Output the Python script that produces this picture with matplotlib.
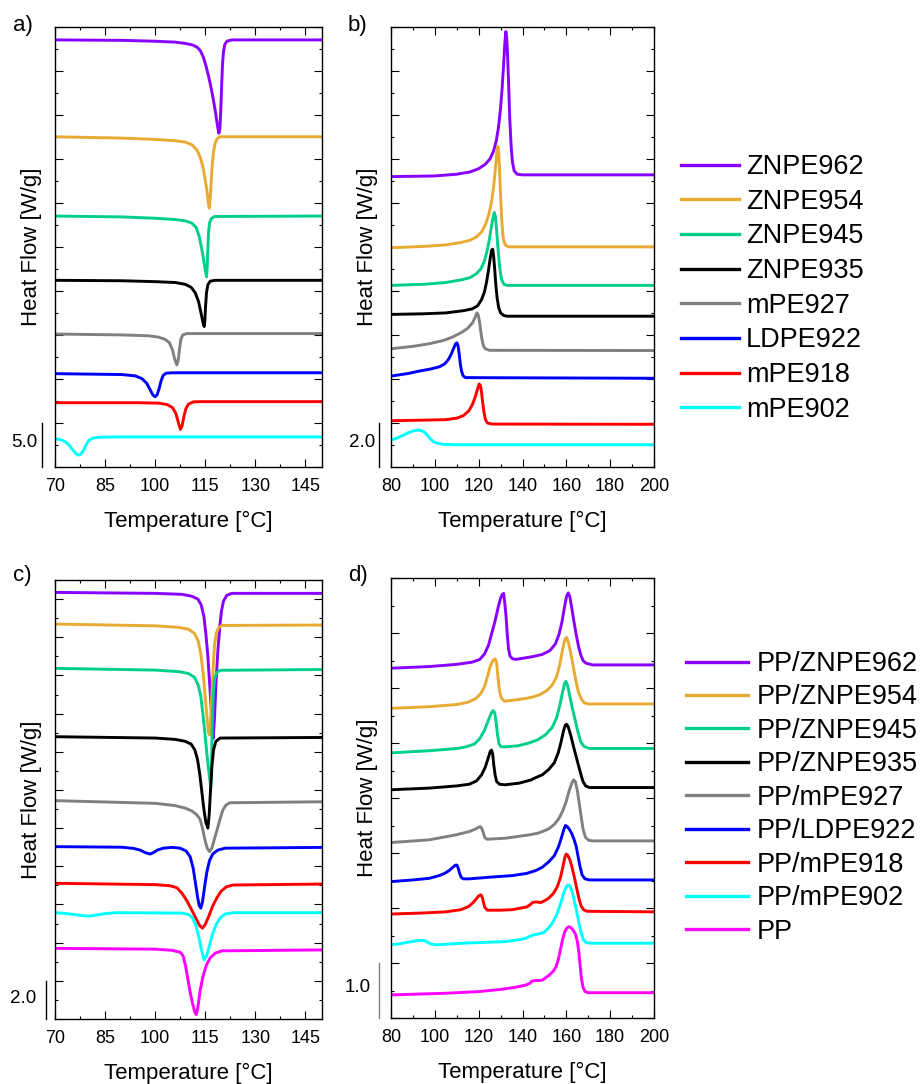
import matplotlib
matplotlib.use("Agg")
import matplotlib.pyplot as plt
from matplotlib.ticker import MultipleLocator
from matplotlib.lines import Line2D

plt.rcParams['font.family'] = ['Liberation Sans', 'DejaVu Sans']

# ---- a) cooling, neat PE  (T [°C], heat flow with offset [W/g])
a_znpe962 = [(70, 48.5), (90, 48.45), (100, 48.35), (106, 48.25), (109, 48.1), (111, 47.95), (112.5, 47.7),
             (113.5, 47.3), (114.4, 46.6), (115.2, 45.6), (116, 44.4), (116.8, 43.0), (117.5, 41.6), (118.2, 40.0),
             (118.7, 38.7), (119.1, 37.9), (119.4, 38.4), (119.7, 40.8), (119.95, 43.5), (120.2, 45.8),
             (120.5, 47.2), (120.9, 48.0), (121.5, 48.35), (123, 48.5), (150, 48.5)]
a_znpe954 = [(70, 37.5), (90, 37.35), (100, 37.2), (106, 37.05), (109, 36.9), (111, 36.6), (112.5, 36.0),
             (113.5, 35.2), (114.3, 34.1), (114.9, 32.9), (115.5, 31.4), (115.9, 30.1), (116.2, 29.4), (116.5, 30.4),
             (116.8, 32.4), (117.1, 34.3), (117.5, 35.8), (118, 36.8), (118.6, 37.3), (119.5, 37.5), (150, 37.5)]
a_znpe945 = [(70, 28.5), (90, 28.4), (100, 28.25), (106, 28.1), (109, 27.95), (111, 27.7), (112.3, 27.2),
             (113.2, 26.2), (113.9, 24.9), (114.5, 23.6), (115.0, 22.4), (115.4, 21.6), (115.6, 22.6), (115.8, 24.8),
             (116.0, 26.6), (116.3, 27.7), (116.8, 28.2), (117.8, 28.45), (150, 28.5)]
a_znpe935 = [(70, 21.2), (90, 21.15), (100, 21.05), (106, 20.95), (109, 20.75), (110.8, 20.4), (112, 19.8),
             (113, 18.8), (113.8, 17.4), (114.4, 16.3), (114.7, 15.95), (114.9, 16.6), (115.1, 18.2), (115.4, 19.8),
             (115.8, 20.7), (116.5, 21.1), (118, 21.2), (150, 21.2)]
a_mpe927 = [(70, 15.1), (90, 15.0), (98, 14.9), (101, 14.75), (103, 14.5), (104.3, 14.1), (105.2, 13.3),
            (105.9, 12.2), (106.5, 11.6), (106.9, 12.1), (107.3, 13.4), (107.7, 14.5), (108.3, 15.0), (109.5, 15.15),
            (150, 15.15)]
a_ldpe922 = [(70, 10.6), (90, 10.5), (94, 10.35), (96, 10.05), (97.5, 9.5), (98.6, 8.7), (99.4, 8.15), (100, 7.98),
             (100.6, 8.2), (101.2, 8.9), (101.8, 9.8), (102.4, 10.4), (103.3, 10.65), (105, 10.7), (150, 10.7)]
a_mpe918 = [(70, 7.3), (95, 7.3), (101, 7.25), (103.5, 7.1), (105.2, 6.75), (106.2, 6.1), (107, 5.0), (107.6, 4.27),
            (108.1, 4.7), (108.6, 5.7), (109.2, 6.6), (110, 7.15), (111.5, 7.4), (114, 7.42), (150, 7.42)]
a_mpe902 = [(70, 3.2), (71.5, 3.12), (73, 2.9), (74.2, 2.5), (75.3, 1.95), (76.3, 1.5), (77, 1.35), (77.7, 1.45),
            (78.5, 1.85), (79.3, 2.5), (80.2, 3.05), (81.5, 3.3), (84, 3.4), (90, 3.42), (150, 3.42)]

# ---- b) heating, neat PE
b_znpe962 = [(80, 13.19), (100, 13.22), (110, 13.3), (116, 13.4), (120, 13.55), (123, 13.75), (125.2, 14.0),
             (126.8, 14.35), (128, 14.8), (129, 15.4), (129.9, 16.2), (130.7, 17.2), (131.4, 18.3), (131.9, 19.2),
             (132.4, 19.78), (132.8, 19.5), (133.2, 18.7), (133.7, 17.3), (134.2, 15.8), (134.8, 14.6),
             (135.4, 13.85), (136.2, 13.45), (137.5, 13.3), (140, 13.27), (200, 13.27)]
b_znpe954 = [(80, 9.96), (95, 10.02), (105, 10.09), (112, 10.2), (116, 10.3), (119, 10.45), (121.5, 10.7),
             (123.3, 11.06), (124.7, 11.5), (125.8, 12.0), (126.8, 12.7), (127.6, 13.5), (128.3, 14.3), (128.8, 14.56),
             (129.2, 14.2), (129.6, 13.3), (130.1, 12.1), (130.6, 11.1), (131.2, 10.4), (132, 10.1), (133.5, 10.0),
             (200, 10.0)]
b_znpe945 = [(80, 8.25), (95, 8.3), (105, 8.38), (112, 8.5), (116, 8.6), (119, 8.78), (121, 9.0), (122.6, 9.35),
             (123.8, 9.8), (124.8, 10.3), (125.7, 10.85), (126.5, 11.3), (127.1, 11.56), (127.6, 11.4), (128.1, 10.9),
             (128.6, 10.2), (129.2, 9.5), (129.8, 8.9), (130.5, 8.5), (131.5, 8.3), (133, 8.25), (200, 8.25)]
b_znpe935 = [(80, 6.93), (95, 6.96), (105, 7.0), (113, 7.1), (117, 7.18), (119.5, 7.32), (121.3, 7.6), (122.6, 7.94),
             (123.6, 8.4), (124.5, 8.95), (125.3, 9.5), (125.9, 9.85), (126.4, 9.89), (126.8, 9.6), (127.3, 9.0),
             (127.8, 8.3), (128.4, 7.7), (129.1, 7.25), (130, 7.0), (131.5, 6.88), (133, 6.85), (200, 6.85)]
b_mpe927 = [(80, 5.37), (90, 5.48), (97.5, 5.6), (104, 5.75), (108, 5.9), (112, 6.1), (115, 6.3), (117.2, 6.55),
            (118.4, 6.8), (119.2, 7.0), (119.8, 6.9), (120.4, 6.6), (120.9, 6.2), (121.5, 5.8), (122.2, 5.5),
            (123, 5.37), (125, 5.3), (200, 5.29)]
b_ldpe922 = [(80, 4.13), (88, 4.25), (93, 4.36), (98, 4.45), (102, 4.55), (104.5, 4.68), (106.3, 4.9), (107.6, 5.15),
             (108.7, 5.42), (109.5, 5.6), (110.1, 5.64), (110.6, 5.5), (111.1, 5.15), (111.6, 4.7), (112.2, 4.35),
             (112.9, 4.14), (114, 4.06), (200, 4.03)]
b_mpe918 = [(80, 2.1), (95, 2.13), (105, 2.15), (110, 2.22), (113, 2.33), (115.5, 2.55), (117.2, 2.85), (118.5, 3.2),
            (119.5, 3.55), (120.2, 3.77), (120.8, 3.7), (121.3, 3.4), (121.8, 2.95), (122.4, 2.5), (123.1, 2.15),
            (124, 2.0), (126, 1.95), (200, 1.94)]
b_mpe902 = [(80, 1.23), (82.5, 1.3), (85.3, 1.43), (88, 1.56), (90.5, 1.65), (93, 1.68), (95, 1.6), (96.5, 1.45),
            (98, 1.27), (99.5, 1.14), (101.5, 1.07), (104, 1.03), (110, 1.01), (200, 1.01)]

# ---- c) cooling, PP blends
c_znpe962 = [(70, 22.35), (100, 22.3), (108, 22.25), (111, 22.15), (112.8, 22.0), (113.8, 21.7), (114.6, 21.1),
             (115.2, 20.2), (115.8, 19.0), (116.4, 17.4), (117.0, 15.7), (117.4, 14.7), (117.8, 15.8), (118.3, 17.8),
             (118.8, 19.3), (119.4, 20.6), (119.9, 21.4), (120.5, 21.9), (121.5, 22.2), (123, 22.3), (150, 22.3)]
c_znpe954 = [(70, 20.69), (100, 20.6), (107, 20.52), (110, 20.42), (111.8, 20.2), (112.9, 19.8), (113.7, 19.1),
             (114.4, 18.1), (115.0, 16.9), (115.6, 15.7), (116.0, 15.0), (116.3, 14.88), (116.6, 15.6), (117.0, 17.0),
             (117.4, 18.5), (117.8, 19.6), (118.3, 20.2), (119.0, 20.5), (120, 20.62), (150, 20.64)]
c_znpe945 = [(70, 18.37), (100, 18.28), (107, 18.2), (110, 18.1), (111.8, 17.9), (112.9, 17.5), (113.7, 16.9),
             (114.3, 16.0), (114.9, 15.0), (115.4, 14.1), (116.0, 13.1), (116.4, 12.5), (116.7, 12.17), (116.9, 13.4),
             (117.1, 15.3), (117.4, 16.9), (117.8, 17.8), (118.4, 18.15), (119.5, 18.27), (150, 18.31)]
c_znpe935 = [(70, 14.79), (100, 14.72), (106, 14.65), (109, 14.55), (110.8, 14.4), (111.9, 14.1), (112.7, 13.6),
             (113.4, 12.8), (114.0, 11.9), (114.6, 11.0), (115.2, 10.3), (115.8, 10.0), (116.2, 10.7), (116.6, 12.0),
             (117.0, 13.2), (117.5, 14.1), (118.2, 14.55), (119.5, 14.72), (150, 14.75)]
c_mpe927 = [(70, 11.44), (100, 11.3), (106, 11.18), (109, 11.05), (111, 10.9), (112.5, 10.7), (113.5, 10.45),
            (114.2, 10.0), (114.9, 9.4), (115.6, 8.95), (116.3, 8.77), (117.0, 8.95), (117.8, 9.45), (118.7, 10.0),
            (119.5, 10.5), (120.3, 10.95), (121.2, 11.2), (122.4, 11.33), (150, 11.38)]
c_ldpe922 = [(70, 9.03), (90, 9.0), (93.5, 8.94), (95.5, 8.85), (97, 8.72), (98.5, 8.64), (99.5, 8.72), (100.8, 8.86),
             (102.5, 8.95), (105, 8.99), (107.5, 8.95), (109.3, 8.8), (110.5, 8.5), (111.4, 7.9), (112.1, 7.1),
             (112.7, 6.4), (113.2, 5.95), (113.7, 5.81), (114.2, 6.15), (114.8, 6.9), (115.5, 7.7), (116.3, 8.3),
             (117.3, 8.65), (118.8, 8.85), (121, 8.95), (150, 8.99)]
c_mpe918 = [(70, 7.11), (100, 7.04), (104.5, 6.98), (106.5, 6.88), (108, 6.6), (109.5, 6.2), (111, 5.7), (112.3, 5.25),
            (113.3, 4.9), (114.2, 4.76), (115, 4.95), (116, 5.35), (117.2, 5.9), (118.5, 6.35), (119.8, 6.7),
            (121.4, 6.93), (123.4, 7.02), (150, 7.07)]
c_mpe902 = [(70, 5.57), (73, 5.53), (76, 5.47), (78.5, 5.41), (80.5, 5.39), (82.5, 5.45), (85, 5.52), (88.5, 5.57),
            (108, 5.55), (110, 5.48), (111.2, 5.3), (112.2, 4.9), (113.1, 4.3), (113.9, 3.6), (114.7, 3.1),
            (115.4, 3.3), (116.2, 3.8), (117.2, 4.45), (118.3, 4.95), (119.5, 5.3), (121, 5.5), (123.5, 5.57),
            (150, 5.57)]
c_pp = [(70, 3.7), (100, 3.66), (105, 3.6), (107.5, 3.5), (108.4, 3.3), (109.1, 2.8), (109.8, 2.1), (110.5, 1.4),
        (111.3, 0.75), (111.9, 0.35), (112.3, 0.23), (112.8, 0.6), (113.5, 1.5), (114.3, 2.2), (115.3, 2.8),
        (116.5, 3.2), (118, 3.45), (120, 3.57), (150, 3.62)]

# ---- d) heating, PP blends
d_znpe962 = [(80, 6.36), (97.5, 6.39), (110, 6.43), (117, 6.47), (120.5, 6.52), (122.7, 6.62), (124.5, 6.78),
             (126, 7.0), (127.5, 7.22), (128.8, 7.45), (129.9, 7.62), (130.7, 7.7), (131.4, 7.72), (131.9, 7.55),
             (132.5, 7.3), (133.0, 7.0), (133.6, 6.72), (134.3, 6.58), (135.5, 6.53), (137, 6.52), (144.6, 6.57),
             (149, 6.61), (152.5, 6.68), (155, 6.8), (156.7, 6.98), (158, 7.2), (159.2, 7.48), (160.2, 7.68),
             (160.9, 7.73), (161.6, 7.66), (162.5, 7.45), (163.5, 7.2), (164.6, 6.95), (165.6, 6.75), (166.6, 6.6),
             (167.6, 6.5), (169, 6.45), (172, 6.42), (200, 6.42)]
d_znpe954 = [(80, 5.63), (97.5, 5.66), (110, 5.7), (115, 5.74), (118.8, 5.81), (121, 5.9), (122.6, 6.02), (124, 6.2),
             (125.3, 6.4), (126.5, 6.5), (127.6, 6.53), (128.2, 6.45), (128.8, 6.2), (129.5, 5.95), (130.3, 5.82),
             (131.7, 5.76), (136, 5.78), (141.6, 5.81), (145, 5.84), (148, 5.88), (151, 5.95), (153.5, 6.05),
             (155.5, 6.2), (157, 6.42), (158.3, 6.7), (159.3, 6.88), (160.1, 6.92), (161.0, 6.82), (162.1, 6.62),
             (163.2, 6.38), (164.3, 6.14), (165.5, 5.93), (166.8, 5.8), (168.2, 5.73), (170, 5.71), (200, 5.71)]
d_znpe945 = [(80, 4.82), (97.5, 4.86), (110, 4.9), (114.2, 4.93), (118, 4.98), (120.5, 5.08), (122.5, 5.22),
             (124.3, 5.4), (125.8, 5.55), (126.6, 5.59), (127.3, 5.55), (127.9, 5.4), (128.6, 5.15), (129.3, 4.98),
             (130.3, 4.93), (132.4, 4.93), (138, 4.95), (143, 5.0), (147, 5.06), (150.5, 5.15), (153.5, 5.28),
             (155.5, 5.45), (157, 5.68), (158.3, 5.93), (159.2, 6.08), (159.8, 6.12), (160.6, 6.04), (161.6, 5.85),
             (162.8, 5.62), (164, 5.42), (165.3, 5.2), (166.6, 5.02), (168, 4.94), (170.5, 4.9), (200, 4.9)]
d_znpe935 = [(80, 4.15), (97.5, 4.18), (110, 4.22), (115.7, 4.25), (119, 4.31), (121.3, 4.42), (123, 4.56),
             (124.3, 4.72), (125.3, 4.85), (125.9, 4.87), (126.4, 4.8), (126.9, 4.6), (127.5, 4.42), (128.2, 4.3),
             (129.5, 4.25), (132, 4.24), (138.5, 4.27), (144, 4.33), (146, 4.37), (149, 4.42), (152, 4.52),
             (154.5, 4.64), (156.3, 4.82), (157.6, 5.02), (158.7, 5.22), (159.5, 5.32), (160.1, 5.34), (160.8, 5.3),
             (162, 5.14), (163.5, 4.9), (165.1, 4.66), (166.5, 4.45), (167.6, 4.3), (168.8, 4.22), (170.5, 4.19),
             (200, 4.19)]
d_mpe927 = [(80, 3.19), (97.5, 3.24), (109.6, 3.33), (115.7, 3.39), (118.8, 3.44), (120, 3.47), (120.7, 3.48),
            (121.4, 3.45), (122.1, 3.37), (122.8, 3.28), (123.8, 3.25), (132.4, 3.27), (143.1, 3.33), (147, 3.36),
            (149.1, 3.39), (152, 3.44), (154.5, 3.52), (156.5, 3.62), (158.3, 3.76), (159.8, 3.92), (161.2, 4.12),
            (162.5, 4.27), (163.3, 4.33), (164.1, 4.3), (165, 4.14), (165.9, 3.9), (166.8, 3.65), (167.7, 3.42),
            (168.8, 3.28), (170.3, 3.23), (172, 3.22), (200, 3.22)]
d_ldpe922 = [(80, 2.48), (90, 2.51), (97.5, 2.54), (102, 2.59), (104.5, 2.63), (106.5, 2.68), (108.2, 2.74),
             (109.4, 2.78), (110.1, 2.78), (110.7, 2.72), (111.3, 2.63), (112, 2.56), (113, 2.53), (115.7, 2.53),
             (125, 2.56), (135.5, 2.59), (142, 2.63), (146, 2.68), (149, 2.74), (152, 2.84), (154.5, 2.95),
             (156.3, 3.1), (157.7, 3.27), (158.8, 3.42), (159.6, 3.5), (160.4, 3.48), (161.4, 3.43), (162.4, 3.36),
             (163.5, 3.25), (164.5, 3.12), (165.3, 2.95), (166.2, 2.76), (167.2, 2.6), (168.5, 2.53), (170.5, 2.51),
             (200, 2.51)]
d_mpe918 = [(80, 1.89), (95, 1.91), (105, 1.93), (112, 1.97), (115.5, 2.03), (117.5, 2.1), (118.8, 2.16), (120, 2.22),
            (121, 2.24), (121.6, 2.2), (122.2, 2.1), (122.8, 2.01), (124, 1.96), (130, 1.96), (135.5, 1.97),
            (142, 2.02), (143.5, 2.06), (144.6, 2.1), (146, 2.11), (148.4, 2.1), (150, 2.13), (152, 2.18),
            (154, 2.26), (155.8, 2.38), (157.3, 2.55), (158.5, 2.76), (159.3, 2.92), (159.9, 2.98), (160.6, 2.96),
            (161.6, 2.88), (162.6, 2.74), (163.6, 2.57), (164.6, 2.38), (165.6, 2.2), (166.6, 2.05), (167.8, 1.97),
            (169.5, 1.94), (200, 1.93)]
d_mpe902 = [(80, 1.33), (84, 1.35), (88, 1.38), (91, 1.4), (93.5, 1.41), (95.2, 1.41), (96.5, 1.38), (98, 1.35),
            (100.5, 1.33), (112.7, 1.36), (132.4, 1.39), (138, 1.42), (141.6, 1.45), (143.5, 1.49), (145, 1.51),
            (147.5, 1.53), (149.5, 1.55), (151.5, 1.62), (153.5, 1.72), (155.5, 1.87), (157.3, 2.07), (158.8, 2.27),
            (159.9, 2.38), (160.8, 2.42), (161.7, 2.39), (162.6, 2.3), (163.6, 2.14), (164.6, 1.96), (165.6, 1.76),
            (166.6, 1.57), (167.7, 1.43), (169, 1.37), (171, 1.36), (200, 1.36)]
d_pp = [(80, 0.42), (105, 0.45), (120, 0.48), (130, 0.52), (137, 0.56), (141.6, 0.6), (143.3, 0.63), (144.3, 0.67),
        (145.5, 0.68), (147.5, 0.68), (149.1, 0.69), (150.5, 0.73), (152.2, 0.78), (154, 0.85), (155.3, 0.93),
        (156.3, 1.06), (157.3, 1.24), (158.3, 1.43), (159.3, 1.57), (160.3, 1.64), (161.2, 1.66), (162.2, 1.64),
        (163.2, 1.59), (164.2, 1.52), (165, 1.4), (165.7, 1.2), (166.3, 0.95), (166.9, 0.72), (167.6, 0.56),
        (168.6, 0.48), (170, 0.46), (200, 0.46)]

pe_labels = ["ZNPE962", "ZNPE954", "ZNPE945", "ZNPE935", "mPE927", "LDPE922", "mPE918", "mPE902"]
pp_labels = ["PP/" + s for s in pe_labels] + ["PP"]
colors = ["#8A00FF", "#E8AA32", "#00CF8A", "#000000", "#808080", "#0000FF", "#FF0000", "#00FFFF", "#FF00FF"]

a_curves = [a_znpe962, a_znpe954, a_znpe945, a_znpe935, a_mpe927, a_ldpe922, a_mpe918, a_mpe902]
b_curves = [b_znpe962, b_znpe954, b_znpe945, b_znpe935, b_mpe927, b_ldpe922, b_mpe918, b_mpe902]
c_curves = [c_znpe962, c_znpe954, c_znpe945, c_znpe935, c_mpe927, c_ldpe922, c_mpe918, c_mpe902, c_pp]
d_curves = [d_znpe962, d_znpe954, d_znpe945, d_znpe935, d_mpe927, d_ldpe922, d_mpe918, d_mpe902, d_pp]

W, H = 921, 1084
fig = plt.figure(figsize=(W / 100, H / 100), dpi=100)


def px_axes(x0, y0, x1, y1):
    return fig.add_axes([x0 / W, 1 - y1 / H, (x1 - x0) / W, (y1 - y0) / H])


def style(ax, xlim, xmaj, xmin, xoff, ylim, ymaj, ymin):
    ax.set_xlim(*xlim)
    ax.set_ylim(*ylim)
    ax.xaxis.set_major_locator(MultipleLocator(xmaj, offset=xoff))
    ax.xaxis.set_minor_locator(MultipleLocator(xmin, offset=xoff))
    ax.yaxis.set_major_locator(MultipleLocator(ymaj))
    ax.yaxis.set_minor_locator(MultipleLocator(ymin))
    ax.tick_params(which="both", direction="in", top=True, right=True, width=0.8)
    ax.tick_params(which="major", length=6)
    ax.tick_params(which="minor", length=2.5)
    ax.tick_params(axis="x", labelsize=13, pad=8)
    ax.tick_params(axis="y", labelleft=False)
    for sp in ax.spines.values():
        sp.set_linewidth(1.0)
    ax.set_xlabel("Temperature [°C]", fontsize=16, labelpad=11)
    ax.set_ylabel("Heat Flow [W/g]", fontsize=16, labelpad=6)


def scale_bar(ax, length, text, xline, xtext, color="black"):
    tr = ax.get_yaxis_transform()
    y0 = ax.get_ylim()[0]
    ax.plot([xline, xline], [y0, y0 + length], color=color, lw=1.0, transform=tr, clip_on=False)
    ax.text(xtext, y0 + length * 0.55, text, transform=tr, ha="center", va="center", fontsize=13.5)


def draw(ax, curves):
    for pts, col in zip(curves, colors):
        ax.plot([p[0] for p in pts], [p[1] for p in pts], color=col, lw=2.1,
                solid_joinstyle="round", solid_capstyle="butt")


ax_a = px_axes(55, 26.7, 322, 467)
ax_b = px_axes(391, 26.7, 654, 467)
ax_c = px_axes(55, 580, 322, 1019)
ax_d = px_axes(391, 578, 654, 1018)

draw(ax_a, a_curves)
draw(ax_b, b_curves)
draw(ax_c, c_curves)
draw(ax_d, d_curves)

style(ax_a, (70, 150), 15, 7.5, 10, (0, 50), 5, 2.5)
style(ax_b, (80, 200), 20, 10, 0, (0, 20), 2, 1)
style(ax_c, (70, 150), 15, 7.5, 10, (0, 23), 2, 1)
style(ax_d, (80, 200), 20, 10, 0, (0, 8), 1, 0.5)

scale_bar(ax_a, 5, "5.0", -0.049, -0.116)
scale_bar(ax_b, 2, "2.0", -0.045, -0.11)
scale_bar(ax_c, 2, "2.0", -0.035, -0.119)
scale_bar(ax_d, 1, "1.0", -0.046, -0.125, color="#808080")

for lab, x, y in [("a)", 13, 25), ("b)", 348, 25), ("c)", 13, 575), ("d)", 348, 575)]:
    fig.text(x / W, 1 - y / H, lab, fontsize=16, ha="left", va="center")

h1 = [Line2D([], [], color=c, lw=2.4) for c in colors[:8]]
fig.legend(h1, pe_labels, loc="upper left", bbox_to_anchor=(681 / W, 1 - 154 / H), frameon=False,
           fontsize=19.5, handlelength=2.15, handletextpad=0.25, labelspacing=0.32, borderpad=0,
           borderaxespad=0)
h2 = [Line2D([], [], color=c, lw=2.4) for c in colors]
fig.legend(h2, pp_labels, loc="upper left", bbox_to_anchor=(686 / W, 1 - 651 / H), frameon=False,
           fontsize=19.5, handlelength=2.3, handletextpad=0.3, labelspacing=0.275, borderpad=0,
           borderaxespad=0)

fig.savefig("out.png", dpi=100)
